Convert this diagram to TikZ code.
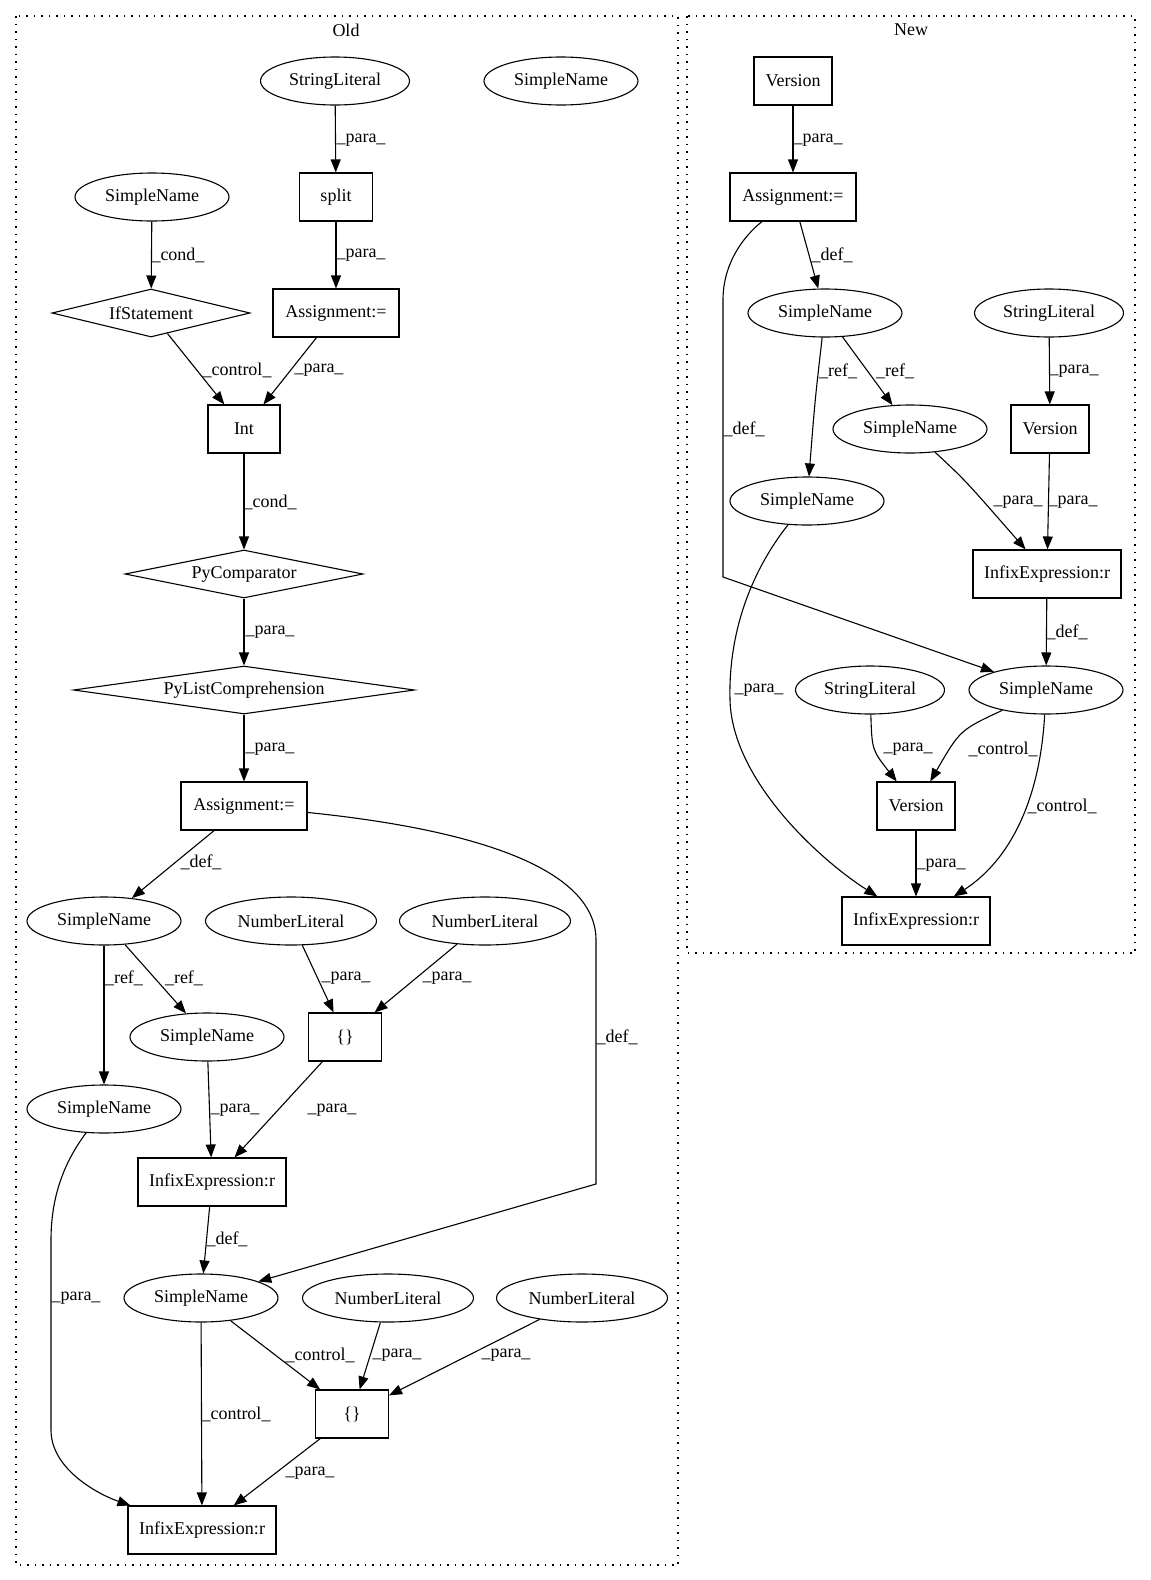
\documentclass[tikz,border=0pt]{standalone}
\usepackage{fontspec}
\setmainfont{Liberation Serif}
\usetikzlibrary{shapes.geometric, arrows.meta}
\tikzset{
    ast_ellipse/.style={
        ellipse, draw=black, line width=1.1pt, inner sep=0pt,
        minimum width=154pt, minimum height=48pt, font=\fontsize{18}{21}\selectfont
    },
    ast_box/.style={
        rectangle, draw=black, line width=1.1pt,
        minimum height=48pt, font=\fontsize{18}{21}\selectfont
    },
    ast_diamond/.style={
        diamond, draw=black, line width=1.1pt, inner sep=0pt, aspect=4,
        minimum height=48pt, font=\fontsize{18}{21}\selectfont
    },
    flow_arrow/.style={
        -{Triangle[length=13pt, width=10pt]}, line width=1.1pt, draw=black
    },
    lbl/.style={
        font=\fontsize{18}{21}\selectfont, inner sep=0pt
    },
    cluster_box/.style={
        draw=black, line width=1.3pt, dash pattern=on 1.5pt off 6pt
    }
}

\begin{document}
\begin{tikzpicture}[x=1pt, y=-1pt]

    \useasboundingbox (0,0) rectangle (1151,1580);

    % clusters
    \draw[cluster_box] (16,16) rectangle (678,1565);
    \draw[cluster_box] (687,16) rectangle (1135,953);
    \node[lbl] (old_title) at (346,30) {Old};
    \node[lbl] (new_title) at (911,30) {New};

    % Old
    \node[ast_ellipse, minimum width=149pt] (old_strlit) at (335,81) {StringLiteral};
    \node[ast_ellipse] (old_sn_iso) at (561,81) {SimpleName};
    \node[ast_ellipse] (old_sn_cond) at (152,197) {SimpleName};
    \node[ast_box, minimum width=73pt] (old_split) at (336,197) {split};
    \node[ast_diamond, aspect=4.1, minimum width=198pt] (old_if) at (151,313) {IfStatement};
    \node[ast_box, minimum width=126pt] (old_asg1) at (336,313) {Assignment:=};
    \node[ast_box, minimum width=72pt] (old_int) at (244,429) {Int};
    \node[ast_diamond, aspect=5, minimum width=238pt] (old_cmp) at (244,574) {PyComparator};
    \node[ast_diamond, aspect=7.1, minimum width=341pt] (old_listcomp) at (244,690) {PyListComprehension};
    \node[ast_box, minimum width=126pt] (old_asg2) at (244,806) {Assignment:=};
    \node[ast_ellipse] (old_sn_a) at (104,921) {SimpleName};
    \node[ast_ellipse, minimum width=171pt] (old_num1) at (291,921) {NumberLiteral};
    \node[ast_ellipse, minimum width=171pt] (old_num2) at (485,921) {NumberLiteral};
    \node[ast_ellipse] (old_sn_b) at (207,1037) {SimpleName};
    \node[ast_box, minimum width=73pt] (old_brace1) at (345,1037) {\{\}};
    \node[ast_ellipse] (old_sn_c) at (104,1109) {SimpleName};
    \node[ast_box, minimum width=148pt] (old_infix1) at (212,1182) {InfixExpression:r};
    \node[ast_ellipse] (old_sn_d) at (201,1298) {SimpleName};
    \node[ast_ellipse, minimum width=171pt] (old_num3) at (388,1298) {NumberLiteral};
    \node[ast_ellipse, minimum width=171pt] (old_num4) at (582,1298) {NumberLiteral};
    \node[ast_box, minimum width=73pt] (old_brace2) at (352,1414) {\{\}};
    \node[ast_box, minimum width=148pt] (old_infix2) at (202,1530) {InfixExpression:r};

    \draw[flow_arrow] (old_strlit) -- (old_split) node[lbl] at (361,140) {\_para\_};
    \draw[flow_arrow] (old_sn_cond) -- (old_if) node[lbl] at (178,255) {\_cond\_};
    \draw[flow_arrow] (old_split) -- (old_asg1) node[lbl] at (361,255) {\_para\_};
    \draw[flow_arrow] (old_if) -- (old_int) node[lbl] at (237,370) {\_control\_};
    \draw[flow_arrow] (old_asg1) -- (old_int) node[lbl] at (319,370) {\_para\_};
    \draw[flow_arrow] (old_int) -- (old_cmp) node[lbl] at (270,502) {\_cond\_};
    \draw[flow_arrow] (old_cmp) -- (old_listcomp) node[lbl] at (270,632) {\_para\_};
    \draw[flow_arrow] (old_listcomp) -- (old_asg2) node[lbl] at (270,749) {\_para\_};
    \draw[flow_arrow] (old_asg2) -- (old_sn_a) node[lbl] at (201,862) {\_def\_};
    \draw[flow_arrow] (old_asg2) .. controls (480,830) and (596,870) .. (596,940)
        -- (596,1184) -- (old_sn_d) node[lbl] at (617,1037) {\_def\_};
    \draw[flow_arrow] (old_sn_a) -- (old_sn_c) node[lbl] at (124,978) {\_ref\_};
    \draw[flow_arrow] (old_sn_a) -- (old_sn_b) node[lbl] at (184,978) {\_ref\_};
    \draw[flow_arrow] (old_num1) -- (old_brace1) node[lbl] at (346,978) {\_para\_};
    \draw[flow_arrow] (old_num2) -- (old_brace1) node[lbl] at (447,978) {\_para\_};
    \draw[flow_arrow] (old_sn_b) -- (old_infix1) node[lbl] at (235,1110) {\_para\_};
    \draw[flow_arrow] (old_brace1) -- (old_infix1) node[lbl] at (332,1110) {\_para\_};
    \draw[flow_arrow] (old_infix1) -- (old_sn_d) node[lbl] at (227,1239) {\_def\_};
    \draw[flow_arrow] (old_sn_c) .. controls (62,1165) and (51,1200) .. (51,1240)
        -- (51,1430) .. controls (51,1470) and (100,1495) .. (old_infix2)
        node[lbl] at (76,1298) {\_para\_};
    \draw[flow_arrow] (old_sn_d) -- (old_brace2) node[lbl] at (320,1355) {\_control\_};
    \draw[flow_arrow] (old_num3) -- (old_brace2) node[lbl] at (397,1355) {\_para\_};
    \draw[flow_arrow] (old_num4) -- (old_brace2) node[lbl] at (506,1355) {\_para\_};
    \draw[flow_arrow] (old_sn_d) -- (old_infix2) node[lbl] at (236,1414) {\_control\_};
    \draw[flow_arrow] (old_brace2) -- (old_infix2) node[lbl] at (310,1473) {\_para\_};

    % New
    \node[ast_box, minimum width=78pt] (new_ver1) at (793,81) {Version};
    \node[ast_box, minimum width=126pt] (new_asg) at (793,197) {Assignment:=};
    \node[ast_ellipse] (new_sn_a) at (825,313) {SimpleName};
    \node[ast_ellipse, minimum width=149pt] (new_strlit1) at (1049,313) {StringLiteral};
    \node[ast_ellipse] (new_sn_b) at (910,429) {SimpleName};
    \node[ast_box, minimum width=78pt] (new_ver2) at (1050,429) {Version};
    \node[ast_ellipse] (new_sn_c) at (807,501) {SimpleName};
    \node[ast_box, minimum width=148pt] (new_infix1) at (1047,574) {InfixExpression:r};
    \node[ast_ellipse, minimum width=149pt] (new_strlit2) at (870,690) {StringLiteral};
    \node[ast_ellipse] (new_sn_d) at (1046,690) {SimpleName};
    \node[ast_box, minimum width=78pt] (new_ver3) at (916,806) {Version};
    \node[ast_box, minimum width=148pt] (new_infix2) at (916,921) {InfixExpression:r};

    \draw[flow_arrow] (new_ver1) -- (new_asg) node[lbl] at (818,140) {\_para\_};
    \draw[flow_arrow] (new_asg) -- (new_sn_a) node[lbl] at (832,255) {\_def\_};
    \draw[flow_arrow] (new_asg) .. controls (745,235) and (723,262) .. (723,300)
        -- (723,577) -- (new_sn_d) node[lbl] at (744,429) {\_def\_};
    \draw[flow_arrow] (new_sn_a) .. controls (815,400) .. (new_sn_c) node[lbl] at (838,371) {\_ref\_};
    \draw[flow_arrow] (new_sn_a) -- (new_sn_b) node[lbl] at (895,371) {\_ref\_};
    \draw[flow_arrow] (new_strlit1) -- (new_ver2) node[lbl] at (1074,371) {\_para\_};
    \draw[flow_arrow] (new_sn_b) .. controls (965,480) .. (new_infix1) node[lbl] at (1018,502) {\_para\_};
    \draw[flow_arrow] (new_ver2) -- (new_infix1) node[lbl] at (1073,502) {\_para\_};
    \draw[flow_arrow] (new_infix1) -- (new_sn_d) node[lbl] at (1067,632) {\_def\_};
    \draw[flow_arrow] (new_sn_c) .. controls (760,560) and (728,620) .. (730,700)
        .. controls (732,780) and (820,860) .. (new_infix2) node[lbl] at (759,690) {\_para\_};
    \draw[flow_arrow] (new_strlit2) .. controls (872,750) .. (new_ver3) node[lbl] at (908,749) {\_para\_};
    \draw[flow_arrow] (new_sn_d) .. controls (960,730) .. (new_ver3) node[lbl] at (1003,749) {\_control\_};
    \draw[flow_arrow] (new_sn_d) .. controls (1040,800) and (1010,860) .. (new_infix2) node[lbl] at (1062,806) {\_control\_};
    \draw[flow_arrow] (new_ver3) -- (new_infix2) node[lbl] at (941,865) {\_para\_};

\end{tikzpicture}
\end{document}
